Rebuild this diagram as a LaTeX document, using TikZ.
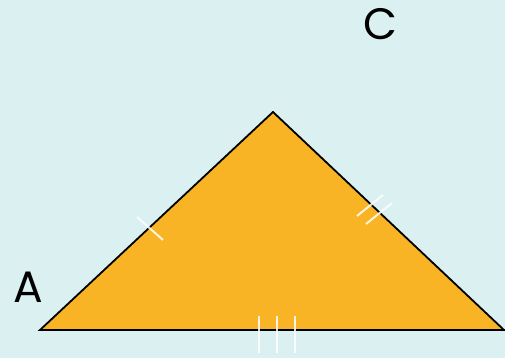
\documentclass[tikz,border=0pt]{standalone}
\usepackage{fontspec}
\newfontfamily\labelfont{Poppins}
\definecolor{bgcyan}{RGB}{218,240,241}
\definecolor{triorange}{RGB}{248,180,36}
\tikzset{
    tick/.style={white, line width=2pt, opacity=0.85},
    vlabel/.style={font=\labelfont\fontsize{44}{44}\selectfont}
}
\begin{document}
\begin{tikzpicture}[x=1pt, y=1pt]
    \fill[bgcyan] (0,0) rectangle (505,358);
    \useasboundingbox (0,0) rectangle (505,358);

    \coordinate (A) at (40,28);
    \coordinate (B) at (273,246);
    \coordinate (C) at (504,28);
    \filldraw[fill=triorange, draw=black, line width=1.8pt] (A) -- (B) -- (C) -- cycle;

    % equal-side marks
    \draw[tick] (137,141) -- (163,118);
    \draw[tick] (357,142) -- (383,163);
    \draw[tick] (366,134) -- (392,155);
    \foreach \x in {259,277,295}
        \draw[tick] (\x,42) -- (\x,5);

    \node[vlabel] (labA) at (28,71) {A};
    \node[vlabel] (labC) at (380,334) {C};
\end{tikzpicture}
\end{document}
